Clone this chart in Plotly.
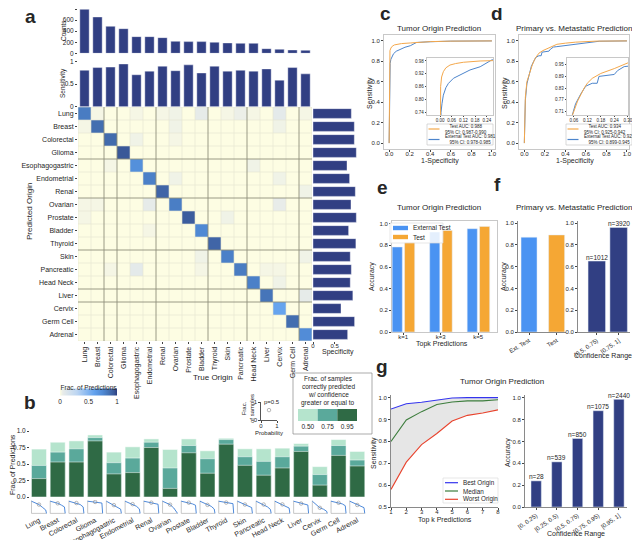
import plotly.graph_objects as go

# the page body adds an 8px margin, so the figure starts at (8, 8) of the window
OX, OY = 8, 8
FW, FH = 632, 532
FONT = "Liberation Sans, Arial, sans-serif"
INK = "#262626"
NAVY = "#313f83"
BAR_BLUE = "#4a93f2"
BAR_ORANGE = "#f5a734"
ROC_ORANGE = "#f4a84c"
ROC_BLUE = "#4d85cc"
GREENS = ["#b5e4cd", "#5aa99b", "#2f6a45"]
SPARK = "#3b7dd6"
HEAT = [[0.0, "#fdfde3"], [0.05, "#e8ece9"], [0.3, "#bcd5f2"], [0.6, "#63a2ee"],
        [0.75, "#4f89d4"], [0.85, "#4573b6"], [0.95, "#3a5898"], [1.0, "#2c3d7e"]]

# ---- panel a: confusion matrix with marginal bars ----
origins = ["Lung", "Breast", "Colorectal", "Glioma", "Esophagogastric", "Endometrial",
           "Renal", "Ovarian", "Prostate", "Bladder", "Thyroid", "Skin", "Pancreatic",
           "Head Neck", "Liver", "Cervix", "Germ Cell", "Adrenal"]
counts = [794, 656, 487, 445, 301, 301, 283, 216, 211, 211, 199, 187, 180, 180, 84, 72, 60, 54]
sensitivity = [0.81, 0.87, 0.88, 0.95, 0.71, 0.79, 0.90, 0.80, 0.93, 0.75, 0.90, 0.79,
               0.81, 0.79, 0.84, 0.59, 0.87, 0.73]
specificity = [0.885, 0.954, 0.954, 1.0, 0.785, 0.845, 0.977, 0.877, 1.0, 0.822, 0.99, 0.86,
               0.885, 0.86, 0.92, 0.647, 0.96, 0.80]
# (predicted row, true column, fraction)
off_diagonal = [(0, 1, 0.02), (0, 4, 0.02), (0, 6, 0.02), (0, 7, 0.03), (0, 9, 0.06),
                (0, 11, 0.02), (0, 12, 0.04), (0, 13, 0.02), (0, 15, 0.07), (0, 17, 0.02),
                (1, 0, 0.02), (1, 7, 0.03), (1, 15, 0.03), (2, 4, 0.03), (2, 7, 0.02),
                (4, 2, 0.02), (4, 13, 0.03), (5, 7, 0.03), (5, 15, 0.03), (6, 17, 0.03),
                (7, 0, 0.02), (7, 1, 0.02), (7, 5, 0.06), (7, 15, 0.05), (8, 0, 0.02),
                (8, 11, 0.03), (9, 5, 0.02), (11, 9, 0.03), (11, 17, 0.03), (12, 2, 0.02),
                (12, 4, 0.07), (12, 9, 0.02), (12, 14, 0.02), (12, 15, 0.02), (13, 15, 0.03),
                (14, 17, 0.06)]
heat_dark_cols = [2, 3, 6, 10, 13, 17]
heat_dark_rows = [4, 7, 11, 14, 15]

# ---- panel b: fraction correct above confidence ----
conf_050 = [0.726, 0.83, 0.85, 0.94, 0.68, 0.76, 0.88, 0.72, 0.88, 0.70, 0.89, 0.73,
            0.73, 0.74, 0.81, 0.46, 0.87, 0.69]
conf_075 = [0.478, 0.68, 0.73, 0.90, 0.52, 0.59, 0.83, 0.44, 0.78, 0.58, 0.87, 0.61,
            0.54, 0.61, 0.77, 0.34, 0.78, 0.56]
conf_095 = [0.279, 0.53, 0.53, 0.85, 0.35, 0.37, 0.75, 0.13, 0.67, 0.36, 0.80, 0.48,
            0.33, 0.44, 0.69, 0.18, 0.63, 0.47]
conf_thresholds = [0.50, 0.75, 0.95]
spark_p = [0.0, 0.5, 0.75, 0.95, 1.0]
spark_start = 1.0
spark_end = 0.0

# ---- panel c / d: ROC curves ----
c_test_fpr = [0, 0.001, 0.003, 0.008, 0.017, 0.03, 0.051, 0.08, 0.12, 0.206, 0.266, 0.4, 0.6, 1.0]
c_test_tpr = [0, 0.6, 0.86, 0.905, 0.93, 0.948, 0.961, 0.968, 0.974, 0.98, 0.985, 0.993, 0.998, 1.0]
c_ext_fpr = [0, 0.002, 0.005, 0.01, 0.017, 0.03, 0.043, 0.069, 0.095, 0.12, 0.154, 0.206,
             0.24, 0.266, 0.4, 0.6, 1.0]
c_ext_tpr = [0, 0.5, 0.74, 0.78, 0.82, 0.855, 0.875, 0.899, 0.912, 0.922, 0.938, 0.953,
             0.969, 0.985, 0.992, 0.998, 1.0]
c_labels = ["Test AUC: 0.988<br>95% CI: 0.987-0.990", "External Test AUC: 0.981<br>95% CI: 0.978-0.985"]

d_test_fpr = [0, 0.003, 0.01, 0.025, 0.04, 0.055, 0.077, 0.106, 0.12, 0.142, 0.18, 0.24,
              0.29, 0.317, 0.4, 0.5, 0.7, 1.0]
d_test_tpr = [0, 0.25, 0.45, 0.6, 0.65, 0.693, 0.764, 0.83, 0.855, 0.88, 0.905, 0.93,
              0.95, 0.967, 0.978, 0.988, 0.998, 1.0]
d_ext_fpr = [0, 0.003, 0.01, 0.025, 0.04, 0.055, 0.068, 0.091, 0.113, 0.142, 0.164, 0.172,
             0.216, 0.24, 0.255, 0.284, 0.317, 0.4, 0.5, 0.6, 0.73, 1.0]
d_ext_tpr = [0, 0.2, 0.42, 0.58, 0.64, 0.693, 0.75, 0.8, 0.84, 0.855, 0.855, 0.89,
             0.895, 0.9, 0.92, 0.94, 0.944, 0.955, 0.97, 0.985, 0.997, 1.0]
d_labels = ["Test AUC: 0.934<br>95% CI: 0.925-0.942", "External Test AUC: 0.922<br>95% CI: 0.899-0.945"]

# ---- panel e: top-k accuracy ----
topk_labels = ["k=1", "k=3", "k=5"]
topk_external = [0.785, 0.923, 0.954]
topk_test = [0.83, 0.938, 0.975]

# ---- panel f: primary vs metastatic ----
pm_labels = ["Ext. Test", "Test"]
pm_accuracy = [0.871, 0.892]
pm_ranges = ["[0.5, 0.75)", "[0.75, 1]"]
pm_range_accuracy = [0.652, 0.961]
pm_range_n = [1012, 3920]

# ---- panel g: top-k sensitivity and confidence ----
k_values = [1, 2, 3, 4, 5, 6, 7, 8]
best_origin = [0.948, 0.972, 0.979, 0.988, 0.998, 1.0, 1.0, 1.0]
median_origin = [0.80, 0.898, 0.936, 0.969, 0.98, 0.985, 0.985, 0.99]
worst_origin = [0.58, 0.705, 0.785, 0.836, 0.893, 0.919, 0.93, 0.944]
conf_ranges = ["[0, 0.25)", "[0.25, 0.5)", "[0.5, 0.75)", "[0.75, 0.95)", "[0.95, 1]"]
conf_accuracy = [0.239, 0.413, 0.627, 0.881, 0.985]
conf_n = [28, 539, 850, 1075, 2440]

fig = go.Figure()
layout = {}
notes = []
shapes = []

BOX = dict(showline=True, mirror=True, linecolor="#c8c8c8", linewidth=0.8)
SPINE = dict(showline=True, mirror=False, linecolor="#8a8a8a", linewidth=0.8)


def X(px):
    return (px - OX) / FW


def Y(py):
    return 1 - (py - OY) / FH


def clamp(v):
    return min(1.0, max(0.0, v))


def axes(n, box, xa=None, ya=None):
    x0, x1, y0, y1 = box
    s = "" if n == 1 else str(n)
    base = dict(showgrid=False, zeroline=False, automargin=False, showline=False,
                ticks="outside", ticklen=2, tickwidth=0.6, tickcolor="#444",
                tickfont=dict(size=6.5, color=INK, family=FONT))
    layout["xaxis" + s] = {**base, "domain": [clamp(X(x0)), clamp(X(x1))], "anchor": "y" + s, **(xa or {})}
    layout["yaxis" + s] = {**base, "domain": [clamp(Y(y1)), clamp(Y(y0))], "anchor": "x" + s, **(ya or {})}
    return "x" + s, "y" + s


def text(x, y, s, size=7, angle=0, bold=False, anchor="center"):
    notes.append(dict(x=X(x), y=Y(y), xref="paper", yref="paper", showarrow=False,
                      text=f"<b>{s}</b>" if bold else s, textangle=angle, xanchor=anchor,
                      yanchor="middle", font=dict(size=size, color=INK, family=FONT)))


def bar_counts(xa, ya, xs, ys, ns):
    for x, y, v in zip(xs, ys, ns):
        notes.append(dict(x=x, y=y, xref=xa, yref=ya, text=f"n={v}", showarrow=False,
                          yanchor="bottom", yshift=-1.5, font=dict(size=6.5, color=INK, family=FONT)))


def rect(x0, y0, x1, y1, line="#c8c8c8", fill="rgba(255,255,255,0.85)"):
    shapes.append(dict(type="rect", xref="paper", yref="paper", x0=X(x0), x1=X(x1),
                       y0=Y(y1), y1=Y(y0), line=dict(color=line, width=0.7),
                       fillcolor=fill, layer="above"))


def key(x, y, color, label, kind="line", size=6.5, w=12):
    if kind == "line":
        shapes.append(dict(type="line", xref="paper", yref="paper", x0=X(x), x1=X(x + w),
                           y0=Y(y), y1=Y(y), line=dict(color=color, width=1.2), layer="above"))
    else:
        shapes.append(dict(type="rect", xref="paper", yref="paper", x0=X(x), x1=X(x + w),
                           y0=Y(y + 2.2), y1=Y(y - 2.2), line=dict(width=0),
                           fillcolor=color, layer="above"))
    text(x + w + 3, y, label, size=size, anchor="left")


idx = list(range(len(origins)))
n = len(origins)
bar_line = dict(color="white", width=0.4)
lab7 = dict(size=7, color=INK, family=FONT)
small6 = dict(size=6, color=INK, family=FONT)

# panel a
xa, ya = axes(1, (78, 312, 8, 53.3), dict(range=[-0.5, n - 0.5], showticklabels=False, ticks=""),
              dict(range=[0, 818], tickvals=[0, 200, 400, 600, 800]))
fig.add_trace(go.Bar(x=idx, y=counts, width=0.72, marker=dict(color=NAVY, line=bar_line), xaxis=xa, yaxis=ya))
xa, ya = axes(2, (78, 312, 60, 106.7), dict(range=[-0.5, n - 0.5], showticklabels=False, ticks=""),
              dict(range=[0, 1.038], tickvals=[0, 0.5, 1], ticktext=["0", "0.5", "1"]))
fig.add_trace(go.Bar(x=idx, y=sensitivity, width=0.72, marker=dict(color=NAVY, line=bar_line), xaxis=xa, yaxis=ya))

z = [[0.0] * n for _ in range(n)]
for i, v in enumerate(sensitivity):
    z[i][i] = v
for r, c, v in off_diagonal:
    z[r][c] = v
xa, ya = axes(3, (78, 312, 107, 341),
              dict(range=[-0.5, n - 0.5], tickvals=idx, ticktext=origins, tickangle=-90, tickfont=lab7),
              dict(range=[n - 0.5, -0.5], tickvals=idx, ticktext=origins, tickfont=lab7))
fig.add_trace(go.Heatmap(z=z, x=idx, y=idx, zmin=0, zmax=1, colorscale=HEAT, xaxis=xa, yaxis=ya,
                         colorbar=dict(orientation="h", x=X(88.5), xanchor="center", y=Y(391.5),
                                       yanchor="middle", len=57, lenmode="pixels", thickness=7,
                                       thicknessmode="pixels", outlinewidth=0, xpad=0, ypad=0,
                                       tickvals=[0, 0.5, 1], ticktext=["0", "0.5", "1"], ticks="",
                                       tickfont=dict(size=6.5, color=INK),
                                       title=dict(text="Frac. of Predictions", side="top",
                                                  font=dict(size=6.5, color=INK)))))
for dark in (False, True):
    col, wid = ("#8f8f7c", 0.9) if dark else ("#e4e4d2", 0.6)
    for k in range(n + 1):
        if (k in heat_dark_cols) == dark:
            shapes.append(dict(type="line", xref=xa, yref=ya, x0=k - 0.5, x1=k - 0.5, y0=-0.5, y1=n - 0.5,
                               line=dict(color=col, width=wid), layer="above"))
        if (k in heat_dark_rows) == dark:
            shapes.append(dict(type="line", xref=xa, yref=ya, y0=k - 0.5, y1=k - 0.5, x0=-0.5, x1=n - 0.5,
                               line=dict(color=col, width=wid), layer="above"))

xa, ya = axes(4, (313, 360, 107, 341),
              dict(range=[0, 1.085], tickvals=[0, 0.5], ticktext=["0", "0.5"], ticklabelstandoff=-3,
                   tickfont=small6),
              dict(range=[n - 0.5, -0.5], showticklabels=False, ticks=""))
fig.add_trace(go.Bar(y=idx, x=specificity, orientation="h", width=0.75,
                     marker=dict(color=NAVY, line=bar_line), xaxis=xa, yaxis=ya))

text(30, 16, "a", size=19, bold=True)
text(63, 31, "Counts", size=6.5, angle=-90)
text(63, 83, "Sensitivity", size=6.5, angle=-90)
text(30, 212, "Predicted Origin", size=8, angle=-90)
text(213, 377, "True Origin", size=8)
text(338, 352, "Specificity", size=7)

# panel b
b_range = [-0.48, 17.68]
xa, ya = axes(5, (30, 370, 431, 497), dict(range=b_range, showticklabels=False, ticks=""),
              dict(range=[0, 1.0], tickvals=[0, 0.25, 0.5, 0.75, 1.0],
                   ticktext=["0.0", "0.25", "0.5", "0.75", "1.0"]))
for vals, col in zip([conf_050, conf_075, conf_095], GREENS):
    fig.add_trace(go.Bar(x=idx, y=vals, width=0.8, marker=dict(color=col, line=dict(color="white", width=0.5)),
                         xaxis=xa, yaxis=ya))

sx, sy, lx, ly, dx, dy = [], [], [], [], [], []
for i in idx:
    curve = [spark_start, conf_050[i], conf_075[i], conf_095[i], spark_end]
    sx += [i - 0.4 + 0.8 * p for p in spark_p] + [None]
    sy += curve + [None]
    lx += [i - 0.4, i - 0.4, i + 0.4, None]
    ly += [1.05, 0.0, 0.0, None]
    dx.append(i - 0.4 + 0.8 * conf_thresholds[0])
    dy.append(conf_050[i])
xa, ya = axes(6, (30, 370, 500, 514),
              dict(range=b_range, tickvals=idx, ticktext=origins, tickangle=-28, ticks="", tickfont=lab7),
              dict(range=[-0.05, 1.1], showticklabels=False, ticks=""))
fig.add_trace(go.Scatter(x=lx, y=ly, mode="lines", line=dict(color="#b0b0b0", width=0.7), xaxis=xa, yaxis=ya))
fig.add_trace(go.Scatter(x=sx, y=sy, mode="lines", line=dict(color=SPARK, width=0.9), xaxis=xa, yaxis=ya))
fig.add_trace(go.Scatter(x=dx, y=dy, mode="markers", marker=dict(symbol="circle-open", size=3.5, color="#8a8a8a",
                                                                  line=dict(width=0.6)), xaxis=xa, yaxis=ya))

xa, ya = axes(7, (261, 277, 402, 420),
              dict(range=[0, 1], tickvals=[0, 1], showline=True, linecolor="#555", linewidth=0.6, tickfont=small6,
                   ticklabelstandoff=-2),
              dict(range=[0, 1], tickvals=[0, 1], showline=True, linecolor="#555", linewidth=0.6, tickfont=small6))
fig.add_trace(go.Scatter(x=[conf_thresholds[0]], y=[0.55], mode="markers",
                         marker=dict(symbol="circle-open", size=3.5, color="#888", line=dict(width=0.6)),
                         xaxis=xa, yaxis=ya))
text(272, 402, "p=0.5", size=6)
text(248, 409, "Frac.<br>of samples", size=6, angle=-90)
text(269, 432.5, "Probability", size=6)

rect(293, 373, 372, 434, line="#888888", fill="rgba(0,0,0,0)")
for j, line_txt in enumerate(["Frac. of samples", "correctly predicted", "w/ confidence", "greater or equal to"]):
    text(328, 378.5 + 8 * j, line_txt, size=6.5)
xa, ya = axes(8, (298, 357, 409, 421),
              dict(range=[-0.5, 2.5], tickvals=[0, 1, 2], ticktext=[f"{t:.2f}" for t in conf_thresholds],
                   ticks="", tickfont=dict(size=6.5, color=INK)),
              dict(range=[0, 1], showticklabels=False, ticks=""))
fig.add_trace(go.Bar(x=[0, 1, 2], y=[1] * len(conf_thresholds), width=1, marker=dict(color=GREENS, line=dict(width=0)),
                     xaxis=xa, yaxis=ya))

text(30, 402, "b", size=19, bold=True)
text(12, 465, "Frac. of Predictions", size=7, angle=-90)

# panels c and d
tick01 = dict(tickvals=[0, 0.2, 0.4, 0.6, 0.8, 1.0], tickformat=".1f", tickfont=small6)
tiny = dict(size=4.5, color=INK, family=FONT)
roc_panels = [
    (9, (384, 495, 35, 149), [-0.05, 1.03], (427, 493, 58, 115), [-0.067, 0.272], [0.727, 0.994],
     [0, 0.06, 0.12, 0.18, 0.24], [0.74, 0.80, 0.86, 0.92, 0.98],
     c_test_fpr, c_test_tpr, c_ext_fpr, c_ext_tpr, c_labels, 427),
    (11, (519, 629, 35, 149), [-0.052, 1.02], (567, 628, 58, 115), [0.03, 0.301], [0.693, 0.984],
     [0.06, 0.12, 0.18, 0.24, 0.30], [0.71, 0.77, 0.83, 0.89, 0.95],
     d_test_fpr, d_test_tpr, d_ext_fpr, d_ext_tpr, d_labels, 566),
]
for (num, box, xr, ibox, ixr, iyr, ixt, iyt, tf, tt, ef, et, labels, lx0) in roc_panels:
    xa, ya = axes(num, box, dict(range=xr, ticklabelstandoff=-3, **tick01, **BOX),
                  dict(range=[-0.058, 1.058], **tick01, **BOX))
    fig.add_trace(go.Scatter(x=ef, y=et, mode="lines", line=dict(color=ROC_BLUE, width=1), xaxis=xa, yaxis=ya))
    fig.add_trace(go.Scatter(x=tf, y=tt, mode="lines", line=dict(color=ROC_ORANGE, width=1), xaxis=xa, yaxis=ya))
    xa, ya = axes(num + 1, ibox,
                  dict(range=ixr, tickvals=ixt, tickformat=".2f", tickfont=tiny, ticklen=1.5,
                       ticklabelstandoff=-1, **BOX),
                  dict(range=iyr, tickvals=iyt, tickformat=".2f", tickfont=tiny, ticklen=1.5, **BOX))
    fig.add_trace(go.Scatter(x=ef, y=et, mode="lines", line=dict(color=ROC_BLUE, width=1), xaxis=xa, yaxis=ya))
    fig.add_trace(go.Scatter(x=tf, y=tt, mode="lines", line=dict(color=ROC_ORANGE, width=1), xaxis=xa, yaxis=ya))
    rect(lx0, 124, lx0 + 66, 145, fill="white")
    key(lx0 + 1.5, 129, ROC_ORANGE, labels[0], size=4.5, w=11)
    key(lx0 + 1.5, 139.5, ROC_BLUE, labels[1], size=4.5, w=11)

text(385, 14, "c", size=19, bold=True)
text(497, 14, "d", size=19, bold=True)
text(439, 28, "Tumor Origin Prediction", size=8)
text(574, 28, "Primary vs. Metastatic Prediction", size=8)
text(370, 93, "Sensitivity", size=7, angle=-90)
text(505, 93, "Sensitivity", size=7, angle=-90)
text(440, 161, "1-Specificity", size=7)
text(575, 161, "1-Specificity", size=7)

# panel e
tick_acc = dict(tickvals=[0, 0.2, 0.4, 0.6, 0.8, 1.0], tickformat=".1f", tickfont=small6)
xa, ya = axes(13, (392, 497, 221, 332),
              dict(range=[-0.3, 2.5], tickvals=[0, 1, 2], ticktext=topk_labels, ticklabelstandoff=-3,
                   tickfont=small6, **BOX),
              dict(range=[0, 1.025], **tick_acc, **BOX))
fig.add_trace(go.Bar(x=[0, 1, 2], y=topk_external, width=0.27, offset=-0.295, marker=dict(color=BAR_BLUE),
                     xaxis=xa, yaxis=ya))
fig.add_trace(go.Bar(x=[0, 1, 2], y=topk_test, width=0.27, offset=0.035, marker=dict(color=BAR_ORANGE),
                     xaxis=xa, yaxis=ya))
rect(390, 223, 443, 243, line="#dddddd")
key(393, 228, BAR_BLUE, "External Test", kind="rect", w=15)
key(393, 237, BAR_ORANGE, "Test", kind="rect", w=15)
text(382, 187, "e", size=19, bold=True)
text(439, 207, "Tumor Origin Prediction", size=8)
text(372, 277, "Accuracy", size=7, angle=-90)
text(442, 344, "Topk Predictions", size=7)

# panel f
xa, ya = axes(14, (518, 566, 221, 332),
              dict(range=[-0.4, 1.34], tickvals=[0, 1], ticktext=pm_labels, tickangle=-30, tickfont=small6, **SPINE),
              dict(range=[0, 1.02], **tick_acc, **SPINE))
fig.add_trace(go.Bar(x=[0, 1], y=pm_accuracy, width=0.58, marker=dict(color=[BAR_BLUE, BAR_ORANGE]),
                     xaxis=xa, yaxis=ya))
xa, ya = axes(15, (578, 630, 221, 332),
              dict(range=[-0.86, 1.52], tickvals=[0, 1], ticktext=pm_ranges, tickangle=-35, tickfont=small6, **SPINE),
              dict(range=[0, 1.02], **tick_acc, **SPINE))
fig.add_trace(go.Bar(x=[0, 1], y=pm_range_accuracy, width=0.8, marker=dict(color=NAVY), xaxis=xa, yaxis=ya))
bar_counts(xa, ya, [0, 1], pm_range_accuracy, pm_range_n)
text(497, 185, "f", size=19, bold=True)
text(574, 207, "Primary vs. Metastatic Prediction", size=8)
text(504, 277, "Accuracy", size=7, angle=-90)
text(603, 356, "Confidence Range", size=7)

# panel g
xa, ya = axes(16, (391, 498, 395, 507),
              dict(range=[1, 8], tickvals=k_values, ticklabelstandoff=-3, tickfont=small6, **SPINE),
              dict(range=[0.5, 1.012], tickvals=[0.5, 0.6, 0.7, 0.8, 0.9, 1.0], tickformat=".1f",
                   tickfont=small6, **SPINE))
fig.add_trace(go.Scatter(x=k_values, y=worst_origin, mode="lines", line=dict(width=0), xaxis=xa, yaxis=ya))
fig.add_trace(go.Scatter(x=k_values, y=best_origin, mode="lines", fill="tonexty", fillcolor="#e6e6e6",
                         line=dict(color="#3434ee", width=1.1), xaxis=xa, yaxis=ya))
fig.add_trace(go.Scatter(x=k_values, y=median_origin, mode="lines", line=dict(color="#3d7d3d", width=1.1),
                         xaxis=xa, yaxis=ya))
fig.add_trace(go.Scatter(x=k_values, y=worst_origin, mode="lines", line=dict(color="#e8432d", width=1.1),
                         xaxis=xa, yaxis=ya))
rect(443, 478, 498, 503, line="#dddddd")
key(445, 482.7, "#3434ee", "Best Origin", size=6.3, w=13)
key(445, 491, "#3d7d3d", "Median", size=6.3, w=13)
key(445, 499.3, "#e8432d", "Worst Origin", size=6.3, w=13)

g_pos = list(range(len(conf_ranges)))
xa, ya = axes(17, (525, 627, 395, 507),
              dict(range=[-0.54, 4.39], tickvals=g_pos, ticktext=conf_ranges, tickangle=-35, tickfont=small6, **SPINE),
              dict(range=[0, 1.025], **tick_acc, **SPINE))
fig.add_trace(go.Bar(x=g_pos, y=conf_accuracy, width=0.5, marker=dict(color=NAVY), xaxis=xa, yaxis=ya))
bar_counts(xa, ya, g_pos, conf_accuracy, conf_n)
text(382, 366, "g", size=19, bold=True)
text(502, 381, "Tumor Origin Prediction", size=8)
text(374, 453, "Sensitivity", size=7, angle=-90)
text(445, 519.5, "Top k Predictions", size=7)
text(508, 453, "Accuracy", size=7, angle=-90)
text(576, 534, "Confidence Range", size=7)

fig.update_layout(width=FW, height=FH, margin=dict(l=0, r=0, t=0, b=0),
                  paper_bgcolor="white", plot_bgcolor="white",
                  font=dict(family=FONT, color=INK, size=7),
                  showlegend=False, barmode="overlay",
                  annotations=notes, shapes=shapes, **layout)
fig.write_html("out.html")
